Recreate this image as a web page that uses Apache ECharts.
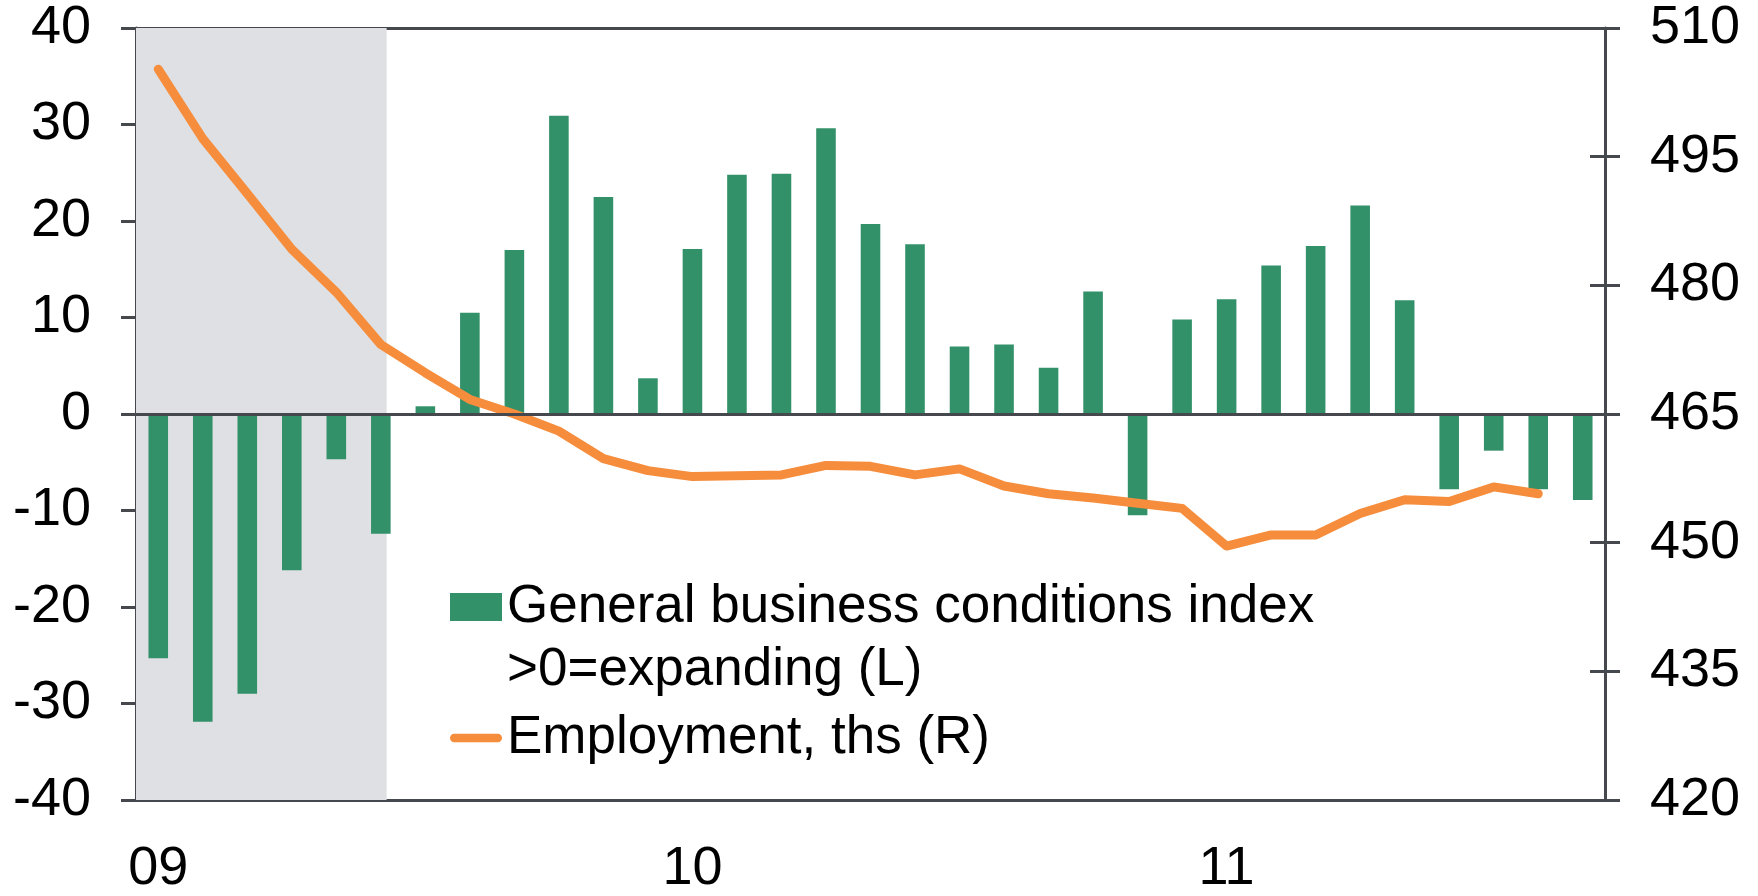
<!DOCTYPE html>
<html>
<head>
<meta charset="utf-8">
<title>General business conditions and employment</title>
<script src="https://cdn.jsdelivr.net/npm/echarts@6/dist/echarts.min.js"></script>
<style>
  html, body { margin: 0; padding: 0; background: #ffffff; }
  #chart { width: 1758px; height: 896px; }
</style>
</head>
<body>
<div id="chart"></div>
<script>
// Monthly observations, Jan 2009 - Sep 2011
const months = [
  '2009-01', '2009-02', '2009-03', '2009-04', '2009-05', '2009-06',
  '2009-07', '2009-08', '2009-09', '2009-10', '2009-11', '2009-12',
  '2010-01', '2010-02', '2010-03', '2010-04', '2010-05', '2010-06',
  '2010-07', '2010-08', '2010-09', '2010-10', '2010-11', '2010-12',
  '2011-01', '2011-02', '2011-03', '2011-04', '2011-05', '2011-06',
  '2011-07', '2011-08', '2011-09'
];

// General business conditions index, >0 = expanding (left axis)
const businessIndex = [
  -25.3, -31.9, -29.0, -16.2, -4.7, -12.4,
  0.8, 10.5, 17.0, 30.9, 22.5, 3.7,
  17.1, 24.8, 24.9, 29.6, 19.7, 17.6,
  7.0, 7.2, 4.8, 12.7, -10.5, 9.8,
  11.9, 15.4, 17.4, 21.6, 11.8, -7.8,
  -3.8, -7.8, -8.9
];

// Employment, thousands (right axis)
const employment = [
  505.2, 497.1, 490.7, 484.2, 479.2, 473.1,
  469.8, 466.7, 465.0, 463.0, 459.8, 458.4,
  457.7, 457.8, 457.9, 459.0, 458.9, 457.9,
  458.6, 456.6, 455.7, 455.2, 454.6, 454.0,
  449.6, 450.9, 450.9, 453.4, 455.0, 454.8,
  456.5, 455.7, null
];

// Shaded recession period, in month slots from the start of the axis
const recessionSpan = [0, 5.63];

const leftAxisRange = { min: -40, max: 40, interval: 10 };
const rightAxisRange = { min: 420, max: 510, interval: 15 };

const barName = 'General business conditions index\n>0=expanding (L)';
const lineName = 'Employment, ths (R)';

const FONT = "'Liberation Sans', Arial, Helvetica, sans-serif";
const AXIS_COLOR = '#45484d';
const GREEN = '#33916a';
const ORANGE = '#f58d3c';
const SHADE = '#dfe0e4';
const AXIS_FONT = 54;
const LEGEND_FONT = 53;
const LEGEND_LINE = 63;

function yAxisBase(range, position, inside, showLabels) {
  return {
    type: 'value',
    position: position,
    offset: 0,
    min: range.min,
    max: range.max,
    interval: range.interval,
    axisLine: { show: !inside, lineStyle: { color: AXIS_COLOR, width: 3 } },
    axisTick: { show: true, inside: inside, length: 15, lineStyle: { color: AXIS_COLOR, width: 3 } },
    axisLabel: {
      show: showLabels,
      margin: 45,
      fontSize: AXIS_FONT,
      fontFamily: FONT,
      color: '#000000'
    },
    splitLine: { show: false }
  };
}

const chart = echarts.init(document.getElementById('chart'), null, { renderer: 'canvas' });

chart.setOption({
  animation: false,
  backgroundColor: '#ffffff',
  grid: { left: 136, right: 153, top: 28, bottom: 88 },
  textStyle: { fontFamily: FONT },
  legend: {
    orient: 'vertical',
    left: 450,
    top: 607 - 1.5 * LEGEND_LINE,
    padding: 0,
    itemWidth: 52,
    itemHeight: 28,
    itemGap: 5,
    selectedMode: false,
    // an empty first line keeps the bar swatch level with the first text line
    formatter: function (name) {
      return name === barName ? '{pad| }\n' + name : name;
    },
    textStyle: {
      fontSize: LEGEND_FONT,
      fontFamily: FONT,
      color: '#000000',
      lineHeight: LEGEND_LINE,
      rich: { pad: { fontSize: LEGEND_FONT, lineHeight: LEGEND_LINE } }
    },
    data: [
      { name: barName, icon: 'rect' },
      {
        name: lineName,
        icon: 'path://M4.5,0 H51.5 A4.5,4.5 0 0 1 51.5,9 H4.5 A4.5,4.5 0 0 1 4.5,0 Z',
        itemStyle: { color: ORANGE }
      }
    ]
  },
  xAxis: [
    {
      type: 'category',
      data: months,
      position: 'bottom',
      boundaryGap: true,
      axisLine: { show: true, onZero: false, lineStyle: { color: AXIS_COLOR, width: 3 } },
      axisTick: { show: false },
      axisLabel: {
        interval: 11,
        margin: 42,
        fontSize: AXIS_FONT,
        fontFamily: FONT,
        color: '#000000',
        formatter: function (v) { return v.slice(2, 4); }
      },
      splitLine: { show: false }
    },
    {
      // frame line along the top, also carries the shaded period
      type: 'value',
      position: 'top',
      min: 0,
      max: months.length,
      axisLine: { show: true, onZero: false, lineStyle: { color: AXIS_COLOR, width: 3 } },
      axisTick: { show: false },
      axisLabel: { show: false },
      splitLine: { show: false }
    }
  ],
  yAxis: [
    yAxisBase(leftAxisRange, 'left', false, true),
    yAxisBase(rightAxisRange, 'right', false, true),
    yAxisBase(leftAxisRange, 'left', true, false),
    yAxisBase(rightAxisRange, 'right', true, false)
  ],
  series: [
    {
      name: 'recession',
      type: 'line',
      xAxisIndex: 1,
      yAxisIndex: 0,
      data: [],
      silent: true,
      z: 0,
      markArea: {
        silent: true,
        itemStyle: { color: SHADE },
        data: [[{ xAxis: recessionSpan[0] }, { xAxis: recessionSpan[1] }]]
      }
    },
    {
      name: barName,
      type: 'bar',
      xAxisIndex: 0,
      yAxisIndex: 0,
      data: businessIndex,
      barWidth: '44%',
      itemStyle: { color: GREEN },
      z: 2,
      markLine: {
        silent: true,
        symbol: 'none',
        label: { show: false },
        lineStyle: { color: AXIS_COLOR, width: 3, type: 'solid' },
        data: [{ yAxis: 0 }]
      }
    },
    {
      name: lineName,
      type: 'line',
      xAxisIndex: 0,
      yAxisIndex: 1,
      data: employment,
      symbol: 'none',
      connectNulls: false,
      lineStyle: { color: ORANGE, width: 9, cap: 'round', join: 'round' },
      itemStyle: { color: ORANGE },
      z: 4
    }
  ]
});
</script>
</body>
</html>
